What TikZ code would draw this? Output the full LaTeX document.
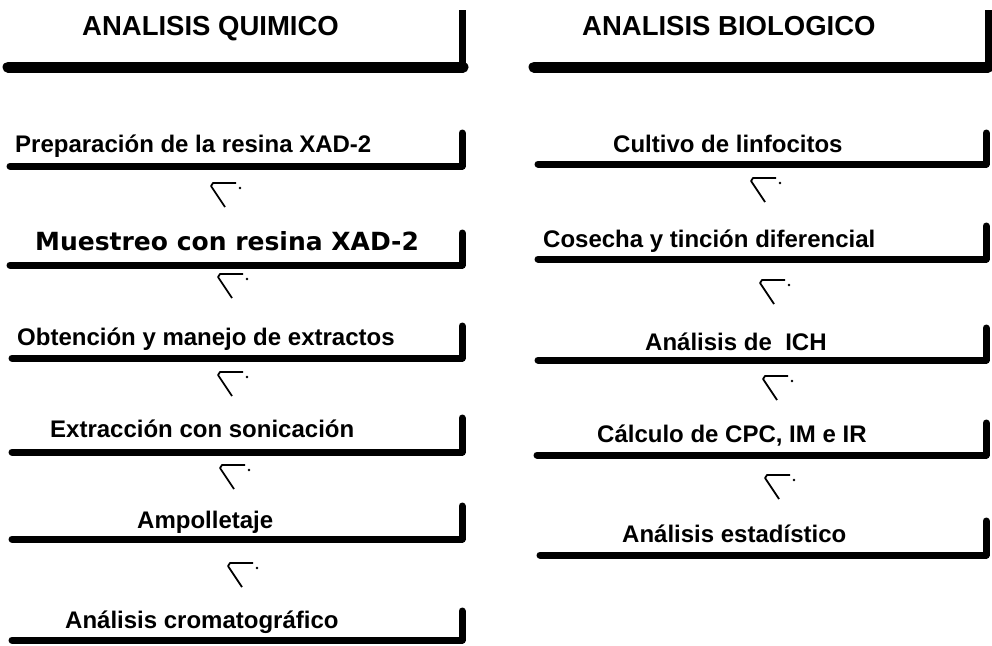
\documentclass[tikz,border=0pt]{standalone}
\usepackage{fontspec}
\setmainfont{Liberation Sans}
\newfontfamily\anchafont{DejaVu Sans}
\usetikzlibrary{positioning}

\tikzset{
  paso/.style = {anchor=base west, inner sep=0pt, font=\bfseries\fontsize{24}{28}\selectfont},
  titulo/.style = {anchor=base west, inner sep=0pt, font=\bfseries\fontsize{27.5}{32}\selectfont},
  barra/.style = {line width=7pt, line join=round, line cap=round},
  flecha/.pic = {
    \draw [line width=1.8pt, line join=round] (23,0) -- (0,0) -- (-2,3) -- (12,24);
    \fill (27,5) circle (1.3pt);
  }
}

\begin{document}
\begin{tikzpicture} [x=1pt, y=-1pt]
    \useasboundingbox (0,0) rectangle (992,645);

    % encabezados
    \node (qui) [titulo] at (82,35) {ANALISIS QUIMICO};
    \node (bio) [titulo] at (582,35) {ANALISIS BIOLOGICO};
    \draw [line width=11pt, line cap=round] (8,67) -- (463,67);
    \draw [line width=7pt] (462,70) -- (462,10);
    \draw [line width=11pt, line cap=round] (534,67) -- (988,67);
    \draw [line width=7pt] (988,70) -- (988,10);

    % analisis quimico
    \node (q1) [paso] at (15,152) {Preparación de la resina XAD-2};
    \node (q2) [paso, font=\anchafont\bfseries\fontsize{25}{30}\selectfont] at (35,250) {Muestreo con resina XAD-2};
    \node (q3) [paso] at (17,345) {Obtención y manejo de extractos};
    \node (q4) [paso] at (50,437) {Extracción con sonicación};
    \node (q5) [paso] at (137,528) {Ampolletaje};
    \node (q6) [paso] at (65,628) {Análisis cromatográfico};

    % analisis biologico
    \node (b1) [paso] at (613,152) {Cultivo de linfocitos};
    \node (b2) [paso] at (543,247) {Cosecha y tinción diferencial};
    \node (b3) [paso] at (645,350) {Análisis de\ \ ICH};
    \node (b4) [paso] at (597,442) {Cálculo de CPC, IM e IR};
    \node (b5) [paso] at (622,542) {Análisis estadístico};

    \foreach \l/\r/\y/\t in {10/462/166/133, 10/462/265/233, 12/462/358/326,
        12/462/452/418, 12/462/539/506, 12/462/640/611,
        538/986/164/133, 538/986/259/226, 538/986/360/328,
        537/986/455/423, 540/986/555/521}
        \draw [barra] (\l,\y) -- (\r,\y) -- (\r,\t);

    % flechas
    \pic (fq1) at (213,183) {flecha};
    \pic (fq2) at (220,274) {flecha};
    \pic (fq3) at (220,372) {flecha};
    \pic (fq4) at (222,465) {flecha};
    \pic (fq5) at (230,563) {flecha};
    \pic (fb1) at (753,178) {flecha};
    \pic (fb2) at (762,280) {flecha};
    \pic (fb3) at (765,376) {flecha};
    \pic (fb4) at (767,475) {flecha};
\end{tikzpicture}
\end{document}
